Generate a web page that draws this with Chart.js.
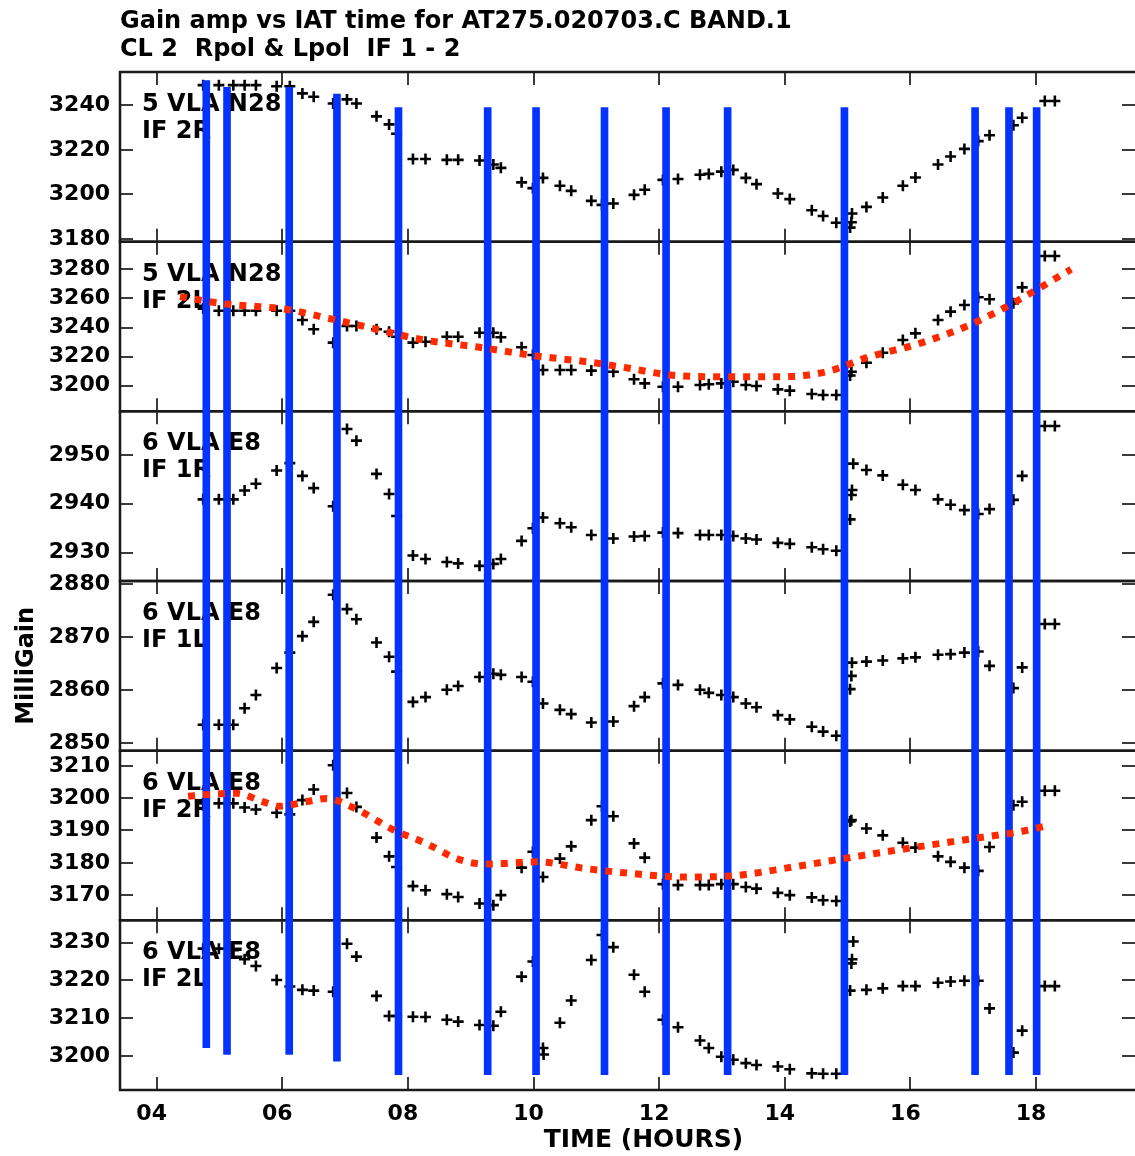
<!DOCTYPE html>
<html>
<head>
<meta charset="utf-8">
<title>Gain amp vs IAT time</title>
<script src="https://cdn.jsdelivr.net/npm/chart.js@4.4.1/dist/chart.umd.min.js"></script>
<style>
    html, body { margin: 0; padding: 0; background: #fff; }
    canvas { display: block; }
</style>
</head>
<body>
<canvas id="gain-chart" width="1135" height="1156"></canvas>
<script>
// scan times (IAT hours), shared by every panel
var scanHours = [4.74, 4.99, 5.22, 5.40, 5.58, 5.91, 6.12, 6.32, 6.50, 6.81,
    7.03, 7.18, 7.50, 7.70, 7.82, 8.08, 8.28, 8.62, 8.80, 9.14,
    9.36, 9.48, 9.81, 9.99, 10.15, 10.16, 10.42, 10.60, 10.92, 11.09,
    11.27, 11.60, 11.77, 12.06, 12.30, 12.65, 12.79, 12.99, 13.18, 13.38,
    13.55, 13.89, 14.08, 14.43, 14.61, 14.82, 15.04, 15.06, 15.07, 15.09,
    15.30, 15.56, 15.88, 16.08, 16.44, 16.64, 16.86, 17.08, 17.26, 17.64,
    17.78, 18.14, 18.30];

// milli gain per antenna / IF (null = no solution at that scan)
var n28If2R = [3249.0, 3249.0, 3249.0, 3249.0, 3249.0, 3248.5, 3248.5, 3245.3, 3243.8, 3240.8,
    3242.6, 3240.8, 3235.0, 3231.4, 3227.2, 3215.9, 3215.9, 3215.5, 3215.5, 3215.2,
    3213.4, 3211.9, 3205.4, 3202.8, 3207.4, null, 3203.9, 3201.6, 3197.1, 3195.3,
    3195.9, 3199.8, 3202.1, 3206.5, 3206.9, 3208.8, 3209.2, 3210.2, 3211.0, 3207.4,
    3204.6, 3200.4, 3197.9, 3192.9, 3190.3, 3187.3, 3185.1, 3187.5, 3191.4, null,
    3194.4, 3198.6, 3203.9, 3207.6, 3213.4, 3217.0, 3220.4, 3223.9, 3226.5, 3231.0,
    3234.4, 3241.9, 3241.9];
var n28If2L = [3253.0, 3251.5, 3251.5, 3251.5, 3251.5, 3251.5, 3251.5, 3245.2, 3238.8, 3229.6,
    3241.0, 3241.0, 3238.8, 3237.1, 3233.7, 3229.6, 3230.2, 3233.7, 3233.7, 3236.4,
    3236.4, 3233.3, 3226.4, 3221.1, 3210.8, null, 3210.8, 3210.8, 3210.4, null,
    3209.6, 3204.4, 3201.6, 3199.3, 3199.3, 3200.5, 3201.0, 3201.6, 3202.7, 3200.5,
    3199.8, 3197.5, 3196.6, 3194.3, 3193.6, 3193.6, 3207.0, 3209.6, null, null,
    3215.8, 3222.7, 3231.4, 3236.0, 3245.2, 3250.9, 3255.5, 3260.8, 3259.4, 3256.6,
    3267.6, 3289.1, 3289.1];
var e8If1R = [2940.9, 2940.9, 2940.9, 2942.7, 2944.1, 2946.8, 2948.3, 2945.7, 2943.2, 2939.5,
    2955.3, 2952.9, 2946.1, 2942.0, 2937.5, 2929.4, 2928.7, 2928.1, 2927.8, 2927.3,
    2927.7, 2928.7, 2932.4, 2935.0, 2937.2, null, 2936.0, 2935.2, 2933.6, null,
    2932.9, 2933.3, 2933.4, 2934.1, 2934.0, 2933.6, 2933.6, 2933.6, 2933.4, 2932.9,
    2932.7, 2932.0, 2931.8, 2931.1, 2930.7, 2930.4, 2936.8, 2941.8, 2942.8, 2948.2,
    2946.9, 2945.8, 2943.9, 2942.8, 2940.9, 2939.8, 2938.7, 2937.9, 2938.9, 2940.8,
    2945.7, 2955.9, 2955.9];
var e8If1L = [2853.5, 2853.5, 2853.5, 2856.6, 2859.1, 2864.2, 2867.1, 2870.2, 2872.9, 2878.0,
    2875.3, 2873.4, 2869.0, 2866.3, 2863.5, 2857.8, 2858.7, 2860.1, 2860.8, 2862.5,
    2863.1, 2862.9, 2862.5, 2861.6, 2857.5, null, 2856.3, 2855.5, 2853.9, null,
    2854.1, 2857.0, 2858.7, 2861.3, 2861.0, 2860.1, 2859.5, 2859.1, 2858.7, 2857.5,
    2856.8, 2855.3, 2854.5, 2853.1, 2852.2, 2851.4, 2860.2, 2862.7, 2865.2, null,
    2865.4, 2865.6, 2866.0, 2866.2, 2866.7, 2866.8, 2867.1, 2867.3, 2864.6, 2860.4,
    2864.3, 2872.5, 2872.5];
var e8If2R = [3198.4, 3198.4, 3198.4, 3197.1, 3196.5, 3195.5, 3195.0, 3199.4, 3202.7, 3210.2,
    3201.6, 3197.3, 3187.8, 3182.0, 3178.7, 3172.8, 3171.5, 3170.3, 3169.4, 3167.4,
    3166.9, 3170.0, 3178.5, 3183.4, 3175.6, null, 3181.3, 3185.1, 3193.2, 3197.5,
    3194.4, 3186.0, 3181.6, 3173.4, 3173.1, 3173.1, 3173.1, 3173.4, 3173.4, 3172.5,
    3172.0, 3170.7, 3170.0, 3169.3, 3168.4, 3168.2, 3192.8, 3193.2, null, null,
    3190.6, 3188.5, 3186.2, 3184.7, 3182.0, 3180.3, 3178.5, 3177.5, 3184.9, 3197.8,
    3198.9, 3202.3, 3202.3];
var e8If2L = [3228.4, 3228.4, 3228.0, 3225.6, 3223.8, 3220.1, 3218.4, 3217.5, 3217.3, 3217.0,
    3229.7, 3226.3, 3215.9, 3210.6, 3210.6, 3210.4, 3210.3, 3209.6, 3209.1, 3208.2,
    3208.0, 3211.7, 3221.0, 3225.0, 3202.1, 3200.4, 3208.8, 3214.7, 3225.4, 3232.0,
    3228.8, 3221.5, 3217.0, 3209.6, 3207.6, 3204.1, 3202.1, 3199.8, 3199.0, 3198.1,
    3197.6, 3197.2, 3196.5, 3195.4, 3195.3, 3195.3, 3217.3, 3224.5, 3225.6, 3230.3,
    3217.5, 3217.9, 3218.5, 3218.5, 3219.4, 3219.7, 3219.9, 3219.9, 3212.6, 3200.9,
    3206.7, 3218.5, 3218.5];

// panel captions, top to bottom
var antennaNames = ['5 VLA N28', '5 VLA N28', '6 VLA E8', '6 VLA E8', '6 VLA E8', '6 VLA E8'];
var ifNames = ['IF 2R', 'IF 2L', 'IF 1R', 'IF 1L', 'IF 2R', 'IF 2L'];

// y range and labelled ticks of each panel
var panelMin = [3178.8, 3182.4, 2924.2, 2848.6, 3162.2, 3191.0];
var panelMax = [3254.9, 3299.0, 2958.9, 2880.6, 3214.7, 3235.9];
var panelTicks = [
    [3180, 3200, 3220, 3240],
    [3200, 3220, 3240, 3260, 3280],
    [2930, 2940, 2950],
    [2850, 2860, 2870, 2880],
    [3170, 3180, 3190, 3200, 3210],
    [3200, 3210, 3220, 3230]
];

// time axis
var hourMin = 3.416;
var hourMax = 19.576;
var hourTicks = [4, 6, 8, 10, 12, 14, 16, 18];

// hand drawn trend curves (IF 2L of N28 and IF 2R of E8)
var trendHoursN28 = [4.37, 5.11, 5.64, 6.06, 6.81, 7.55, 8.19, 9.14, 10.05, 10.84,
    11.50, 12.17, 12.96, 13.92, 14.66, 15.35, 16.15, 16.94, 17.58, 18.56];
var trendGainN28 = [3261.2, 3256.1, 3254.3, 3252.5, 3245.6, 3238.3, 3231.9, 3226.4, 3220.4, 3216.5,
    3212.2, 3207.4, 3206.2, 3206.2, 3209.6, 3219.9, 3229.1, 3241.7, 3255.5, 3280.0];
var trendHoursE8 = [4.50, 4.79, 5.27, 5.69, 5.96, 6.38, 6.70, 7.13, 7.76, 8.29, 8.82,
    9.25, 10.04, 10.84, 11.50, 12.43, 13.12, 14.13, 15.09, 16.04, 17.00, 17.74, 18.20];
var trendGainE8 = [3200.6, 3201.1, 3201.5, 3198.9, 3197.5, 3198.9, 3199.9, 3197.1, 3190.3, 3186.0, 3181.0,
    3179.6, 3180.3, 3178.2, 3176.8, 3175.6, 3175.9, 3178.7, 3181.8, 3184.7, 3187.5, 3189.6, 3191.6];

// marked times: vertical bars running through the panels
// (extent in panel heights, 0 = bottom of the last panel, 6 = top of the first)
var markHours = [4.79, 5.12, 6.11, 6.87, 7.85, 9.27, 10.04, 11.13, 12.11, 13.09, 14.95, 17.03, 17.57, 18.01];
var markTop = [5.95, 5.91, 5.91, 5.87, 5.79, 5.79, 5.79, 5.79, 5.79, 5.79, 5.79, 5.79, 5.79, 5.79];
var markBottom = [0.25, 0.21, 0.21, 0.17, 0.09, 0.09, 0.09, 0.09, 0.09, 0.09, 0.09, 0.09, 0.09, 0.09];

var panelIds = ['p1', 'p2', 'p3', 'p4', 'p5', 'p6'];
var panelSeries = [n28If2R, n28If2L, e8If1R, e8If1L, e8If2R, e8If2L];

Chart.defaults.font.family = '"DejaVu Sans", sans-serif';
Chart.defaults.font.weight = 'bold';
Chart.defaults.font.size = 22;
Chart.defaults.color = '#000';

// join x and y arrays into points, skipping empty scans
function toPoints(xs, ys) {
    var points = [];
    for (var i = 0; i < xs.length; i++) {
        if (ys[i] !== null) {
            points.push({ x: xs[i], y: ys[i] });
        }
    }
    return points;
}

function fixedTicks(values) {
    return function(scale) {
        scale.ticks = values.map(function(v) { return { value: v }; });
    };
}

// frame, inward ticks and captions of every panel, plus the time axis label
var panelFrames = {
    id: 'panelFrames',
    beforeDraw: function(chart) {
        var ctx = chart.ctx;
        ctx.save();
        ctx.fillStyle = '#fff';
        ctx.fillRect(0, 0, chart.width, chart.height);
        ctx.restore();
    },
    beforeDatasetsDraw: function(chart) {
        var ctx = chart.ctx;
        var area = chart.chartArea;
        var xScale = chart.scales.x;
        var tickLen = 13;
        ctx.save();
        panelIds.forEach(function(id, i) {
            var yScale = chart.scales[id];
            // tick marks pointing into the panel
            ctx.strokeStyle = '#3a3a3a';
            ctx.lineWidth = 2;
            ctx.beginPath();
            xScale.ticks.forEach(function(tick) {
                var px = Math.round(xScale.getPixelForValue(tick.value));
                ctx.moveTo(px, yScale.top);
                ctx.lineTo(px, yScale.top + tickLen);
                ctx.moveTo(px, yScale.bottom);
                ctx.lineTo(px, yScale.bottom - tickLen);
            });
            yScale.ticks.forEach(function(tick) {
                var py = Math.round(yScale.getPixelForValue(tick.value));
                ctx.moveTo(area.left, py);
                ctx.lineTo(area.left + tickLen, py);
                ctx.moveTo(area.right, py);
                ctx.lineTo(area.right - tickLen, py);
            });
            ctx.stroke();
            // panel edges: top, bottom and left (the right edge runs off the page)
            ctx.strokeStyle = '#1a1a1a';
            ctx.lineWidth = 2.5;
            ctx.beginPath();
            ctx.moveTo(area.right + 2, yScale.top);
            ctx.lineTo(area.left, yScale.top);
            ctx.lineTo(area.left, yScale.bottom);
            ctx.lineTo(area.right + 2, yScale.bottom);
            ctx.stroke();
            // caption
            ctx.fillStyle = '#000';
            ctx.font = 'bold 24px "DejaVu Sans", sans-serif';
            ctx.textAlign = 'left';
            ctx.textBaseline = 'alphabetic';
            ctx.fillText(antennaNames[i], area.left + 22, yScale.top + 39);
            ctx.fillText(ifNames[i], area.left + 22, yScale.top + 66);
        });
        ctx.restore();
    },
    afterDraw: function(chart) {
        var ctx = chart.ctx;
        var area = chart.chartArea;
        ctx.save();
        ctx.fillStyle = '#000';
        ctx.font = 'bold 25px "DejaVu Sans", sans-serif';
        ctx.textAlign = 'center';
        ctx.textBaseline = 'middle';
        ctx.fillText('TIME (HOURS)', (area.left + area.right) / 2 + 16, chart.height - 16);
        ctx.restore();
    }
};

// datasets: gain points, marker bars, trend curves
var datasets = panelIds.map(function(id, i) {
    return {
        type: 'scatter',
        data: toPoints(scanHours, panelSeries[i]),
        yAxisID: id,
        pointStyle: 'cross',
        pointRadius: 5.5,
        pointBorderWidth: 2.6,
        pointBorderColor: '#000',
        pointBackgroundColor: '#000',
        order: 2
    };
});

datasets.push({
    type: 'bar',
    data: markHours.map(function(h, i) { return { x: h, y: [markBottom[i], markTop[i]] }; }),
    yAxisID: 'track',
    backgroundColor: '#0433ff',
    borderWidth: 0,
    barThickness: 7,
    order: 1
});

[[trendHoursN28, trendGainN28, 'p2'], [trendHoursE8, trendGainE8, 'p5']].forEach(function(curve) {
    datasets.push({
        type: 'line',
        data: toPoints(curve[0], curve[1]),
        yAxisID: curve[2],
        borderColor: '#ff2a00',
        borderWidth: 7,
        borderDash: [7, 8],
        borderCapStyle: 'butt',
        cubicInterpolationMode: 'monotone',
        pointRadius: 0,
        fill: false,
        order: 0
    });
});

// scales: shared time axis, six stacked gain axes, hidden axis for the bars
var scales = {
    x: {
        type: 'linear',
        position: 'bottom',
        min: hourMin,
        max: hourMax,
        offset: false,
        grid: { display: false, drawTicks: false, offset: false },
        border: { display: false },
        afterBuildTicks: fixedTicks(hourTicks),
        afterFit: function(scale) {
            scale.height = 66;
            scale.paddingLeft = 0;
            scale.paddingRight = 0;
        },
        ticks: {
            padding: 11,
            labelOffset: -5,
            maxRotation: 0,
            autoSkip: false,
            callback: function(value) { return (value < 10 ? '0' : '') + value; }
        }
    },
    track: {
        type: 'linear',
        position: 'right',
        display: false,
        min: 0,
        max: 6,
        afterFit: function(scale) { scale.width = 0; }
    }
};

panelIds.forEach(function(id, i) {
    scales[id] = {
        type: 'linear',
        position: 'left',
        stack: 'gain',
        stackWeight: 1,
        weight: panelIds.length - i,
        min: panelMin[i],
        max: panelMax[i],
        grid: { display: false, drawTicks: false },
        border: { display: false },
        afterBuildTicks: fixedTicks(panelTicks[i]),
        afterFit: function(scale) { scale.width = 120; },
        ticks: {
            padding: 10,
            autoSkip: false,
            callback: function(value) { return String(value); }
        },
        title: {
            display: i === 3,
            text: 'MilliGain',
            font: { size: 24, weight: 'bold' },
            padding: { top: 12, bottom: 0 }
        }
    };
});

var ctx = document.getElementById('gain-chart').getContext('2d');
var gainChart = new Chart(ctx, {
    type: 'scatter',
    data: { datasets: datasets },
    options: {
        responsive: false,
        animation: false,
        events: [],
        layout: { padding: 0, autoPadding: false },
        scales: scales,
        plugins: {
            legend: { display: false },
            tooltip: { enabled: false },
            title: {
                display: true,
                align: 'start',
                fullSize: false,
                color: '#000',
                text: ['Gain amp vs IAT time for AT275.020703.C BAND.1', 'CL 2  Rpol & Lpol  IF 1 - 2'],
                font: { size: 24, weight: 'bold', lineHeight: 28 / 24 },
                padding: { top: 8, bottom: 8 }
            }
        }
    },
    plugins: [panelFrames]
});
</script>
</body>
</html>
